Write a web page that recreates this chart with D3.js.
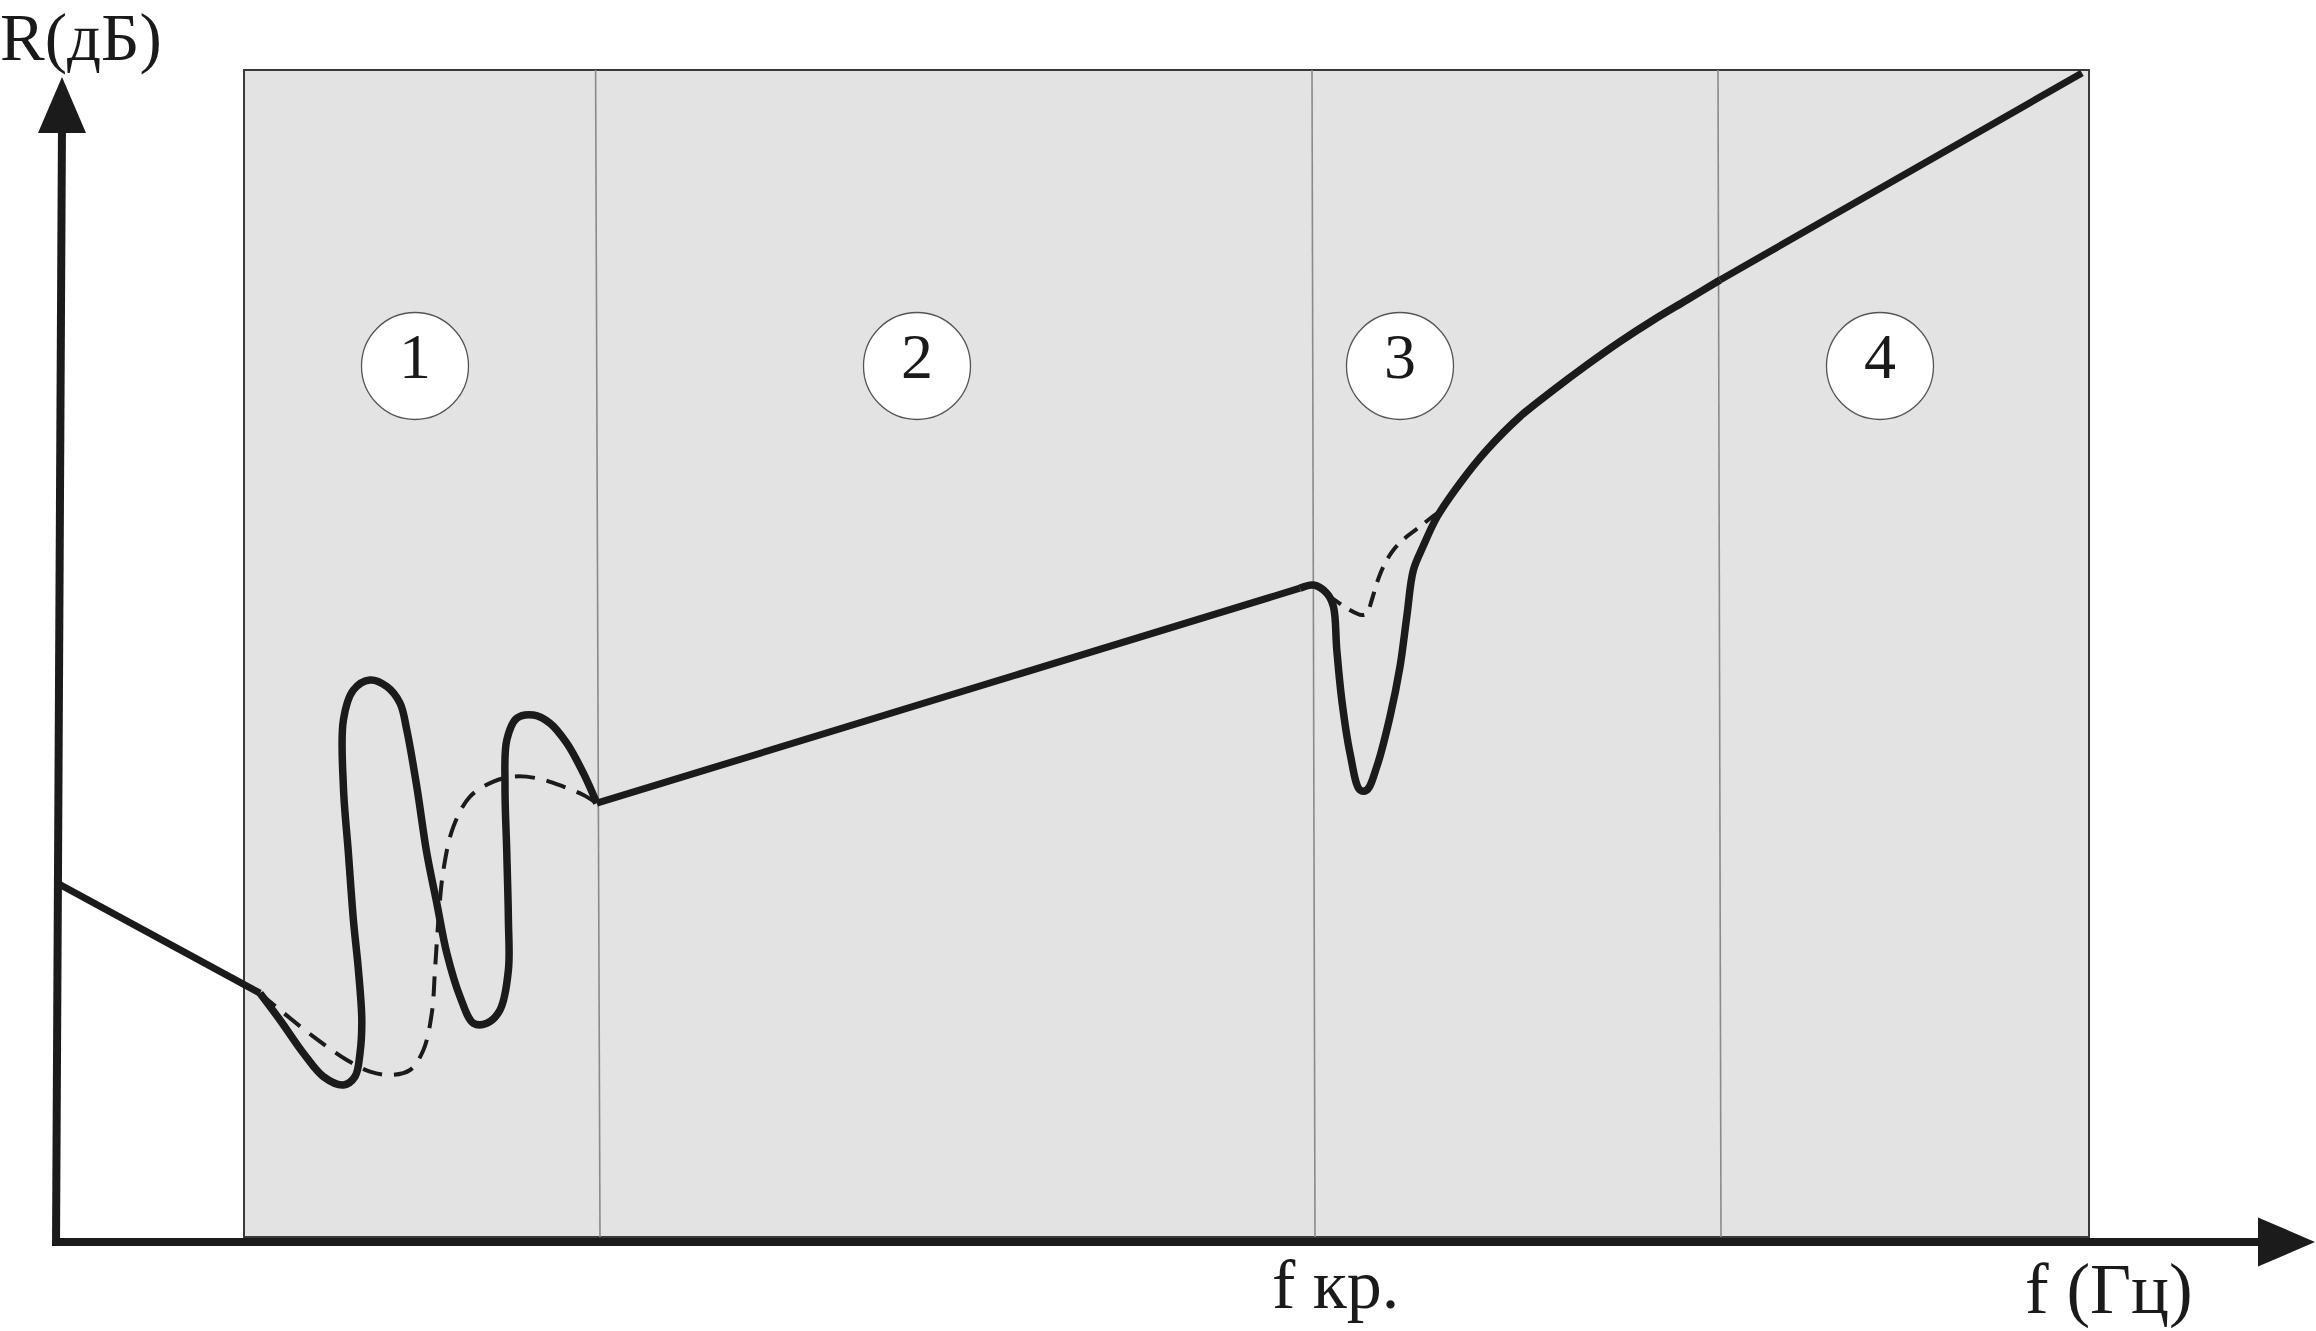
<!DOCTYPE html>
<html>
<head>
<meta charset="utf-8">
<script src="https://cdn.jsdelivr.net/npm/d3@7"></script>
<style>
  html, body { margin: 0; padding: 0; background: #ffffff; }
  svg { display: block; }
  text { font-family: "Liberation Serif", "DejaVu Serif", serif; fill: #1a1a1a; }
</style>
</head>
<body>
<svg id="chart" width="2316" height="1331"></svg>
<script>
// ---------- data (abstract frequency / level units) ----------
const regionLabels = ["1", "2", "3", "4"];
const regionLabelX = [179.5, 430.5, 672, 912];
const regionLabelY = 438;

// region dividers (x at top, x at bottom)
const dividerTopX = [269.8, 628, 831];
const dividerBottomX = [272, 629.5, 832.5];

// shaded box extents
const boxX = [94, 1016.5];
const boxY = [2.5, 586];

// descending part before region 1
const lineStart = [[0.5, 179.5], [102, 124.4]];

// solid curve, region 1 (resonances)
const solidRegion1 = [
  [102, 124.4], [112, 111], [123.7, 94.4], [133.7, 82.7], [143.7, 78.5],
  [149.5, 82.7], [152, 94.4], [152.9, 111], [151.2, 136], [148.7, 161],
  [146.2, 194.4], [143.7, 227.7], [143.7, 261], [148.7, 276], [157, 281],
  [165.4, 277.7], [172, 269.4], [175.4, 256], [180.4, 227.7], [185.4, 194.4],
  [190.4, 169.4], [195.4, 144.4], [202, 122.7], [208.7, 109.4], [215.4, 109.4],
  [222, 116], [226.2, 136], [226.2, 161], [225.4, 194.4], [224.5, 227.7],
  [225.4, 251], [230.4, 261.9], [238.7, 263.5], [247, 259.4], [255.4, 249.4],
  [263.7, 234.4], [270.4, 219.4]
];

// dashed curve, region 1
const dashedRegion1 = [
  [102, 124.4], [112, 116], [128.7, 102.7], [145.4, 91], [157, 85.2],
  [167, 83.5], [177, 86], [183.7, 96], [187.9, 114.4], [189.5, 136],
  [191.2, 161], [193.7, 186], [198.7, 207.7], [207, 222.7], [218.7, 230.2],
  [228.7, 232.7], [240.4, 231.9], [253.7, 227.7], [263.7, 223.5], [270.4, 219.4]
];

// mass law line, region 2
const massLaw = [[270.4, 219.4], [622, 326.9]];

// solid curve, region 3 (coincidence dip)
const solidRegion3 = [
  [622, 326.9], [628.7, 328.5], [635.4, 324.4], [638.7, 317.7], [640.4, 296],
  [642.9, 271], [647, 244.4], [652, 226], [655.4, 226], [660.4, 237.7],
  [667, 262.7], [672, 287.7], [675.4, 312.7], [678.7, 336], [683.5, 347.7],
  [690.5, 362.5], [702, 379.4], [715.4, 396], [732, 412.7], [748.7, 426],
  [765.4, 438.5], [782, 450.2], [798.7, 461], [815.4, 471], [832, 481]
];

// dashed curve, region 3
const dashedRegion3 = [
  [636, 323.5], [645.4, 316.9], [652.9, 313.5], [655.4, 314.4], [657.9, 321],
  [660.4, 329.4], [663.7, 337.7], [668.7, 346], [675.4, 352.7], [682, 357.7],
  [688, 362.5], [693, 366]
];

// region 4 straight line
const region4Line = [[832, 481], [1013, 584.5]];

// axes
const yAxisLine = [[0, -2], [3, 560]];
const yAxisArrow = [[3, 582.5], [-9, 554.5], [15, 554.5]];
const xAxisLine = [[-1.5, 0], [1104, 0]];
const xAxisArrow = [[1129.5, 0], [1101, 12.3], [1101, -12.3]];

const axisLabelY = "R(дБ)";
const axisLabelX = "f (Гц)";
const tickLabelX = "f кр.";
const tickLabelXValue = 608;

// ---------- drawing ----------
const svg = d3.select("#chart");
const x = d3.scaleLinear().domain([0, 1130]).range([56, 2316]);
const y = d3.scaleLinear().domain([0, 583]).range([1242, 76]);

const ink = "#1b1b1b";

// shaded box
svg.append("rect")
  .attr("x", x(boxX[0]))
  .attr("y", y(boxY[1]))
  .attr("width", x(boxX[1]) - x(boxX[0]))
  .attr("height", y(boxY[0]) - y(boxY[1]))
  .attr("fill", "#e3e3e3")
  .attr("stroke", "#3a3a3a")
  .attr("stroke-width", 2);

// dividers
svg.selectAll("line.divider")
  .data(dividerTopX.map((t, i) => [t, dividerBottomX[i]]))
  .join("line")
  .attr("class", "divider")
  .attr("x1", d => x(d[0]))
  .attr("y1", y(boxY[1]))
  .attr("x2", d => x(d[1]))
  .attr("y2", y(boxY[0]))
  .attr("stroke", "#8a8a8a")
  .attr("stroke-width", 1.6);

// region circles
const circ = svg.selectAll("g.region")
  .data(regionLabels)
  .join("g")
  .attr("class", "region")
  .attr("transform", (d, i) => `translate(${x(regionLabelX[i])},${y(regionLabelY)})`);
circ.append("circle")
  .attr("r", 53.5)
  .attr("fill", "#ffffff")
  .attr("stroke", "#555")
  .attr("stroke-width", 1.3);
circ.append("text")
  .attr("text-anchor", "middle")
  .attr("y", 12)
  .attr("font-size", 64)
  .text(d => d);

// curves
const smooth = d3.line().x(d => x(d[0])).y(d => y(d[1])).curve(d3.curveCatmullRom.alpha(0.5));
const straight = d3.line().x(d => x(d[0])).y(d => y(d[1]));

svg.append("path").attr("d", smooth(dashedRegion1))
  .attr("fill", "none").attr("stroke", ink).attr("stroke-width", 4)
  .attr("stroke-dasharray", "20 12");
svg.append("path").attr("d", smooth(dashedRegion3))
  .attr("fill", "none").attr("stroke", ink).attr("stroke-width", 4)
  .attr("stroke-dasharray", "16 10");

[lineStart, massLaw, region4Line].forEach(seg => {
  svg.append("path").attr("d", straight(seg))
    .attr("fill", "none").attr("stroke", ink).attr("stroke-width", 7)
    .attr("stroke-linejoin", "round");
});
[solidRegion1, solidRegion3].forEach(seg => {
  svg.append("path").attr("d", smooth(seg))
    .attr("fill", "none").attr("stroke", ink).attr("stroke-width", 7.5)
    .attr("stroke-linejoin", "round").attr("stroke-linecap", "butt");
});

// axes
svg.append("path").attr("d", straight(yAxisLine))
  .attr("stroke", ink).attr("stroke-width", 8).attr("fill", "none");
svg.append("path").attr("d", straight(xAxisLine))
  .attr("stroke", ink).attr("stroke-width", 8).attr("fill", "none");
svg.append("path").attr("d", straight(yAxisArrow) + "Z").attr("fill", ink);
svg.append("path").attr("d", straight(xAxisArrow) + "Z").attr("fill", ink);

// labels
svg.append("text").attr("x", 0).attr("y", 60).attr("font-size", 67).text(axisLabelY);
svg.append("text").attr("x", 2025).attr("y", 1313).attr("font-size", 71).text(axisLabelX);
svg.append("text").attr("x", x(tickLabelXValue)).attr("y", 1308).attr("font-size", 70).text(tickLabelX);
</script>
</body>
</html>
